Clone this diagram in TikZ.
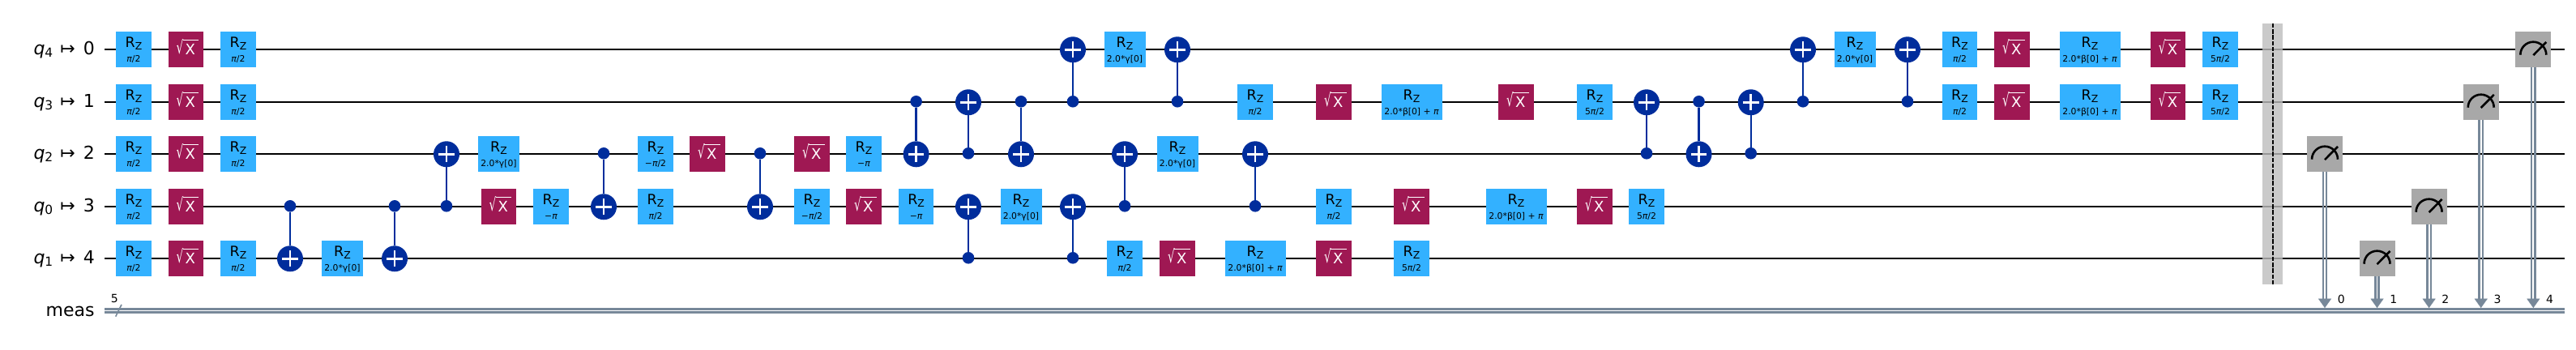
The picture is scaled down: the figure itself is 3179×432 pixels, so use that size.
\documentclass[tikz,border=0pt]{standalone}
\usepackage{fontspec}
\usepackage{graphicx}
\setmainfont{DejaVu Sans}
\usetikzlibrary{arrows.meta}
\definecolor{rzblue}{HTML}{33B1FF}
\definecolor{sxred}{HTML}{9F1853}
\definecolor{cxblue}{HTML}{002D9C}
\definecolor{msgrey}{HTML}{A8A8A8}
\definecolor{wiregrey}{HTML}{778899}
\definecolor{bargrey}{HTML}{BDBDBD}
\def\ya{61.3}\def\yb{126.3}\def\yc{190.3}\def\yd{255.3}\def\ye{319.3}\def\ym{383.3}
\tikzset{
  wire/.style={draw=black,line width=1.2pt},
  cwire/.style={draw=wiregrey,line width=1.25pt},
  gatebox/.style={rectangle,inner sep=0pt,outer sep=0pt,minimum height=21.9pt},
  rzbox/.style={gatebox,fill=rzblue},
  sxbox/.style={gatebox,fill=sxred,minimum width=21.7pt},
  sxtext/.style={anchor=base,inner sep=0pt,outer sep=0pt,text=white,font=\fontsize{9}{11}\selectfont},
  sxroot/.style={anchor=base,inner sep=0pt,outer sep=0pt,text=white,font=\fontsize{11}{13}\selectfont},
  sxrule/.style={draw=white,line width=0.4pt},
  msbox/.style={gatebox,fill=msgrey,minimum width=22pt},
  rzname/.style={anchor=base,inner sep=0pt,font=\fontsize{8.7}{11}\selectfont},
  rzsub/.style={anchor=base,inner sep=0pt,font=\fontsize{5.4}{7}\selectfont},
  target/.style={circle,fill=cxblue,inner sep=0pt,outer sep=0pt,minimum size=16pt},
  ctrl/.style={circle,fill=cxblue,inner sep=0pt,outer sep=0pt,minimum size=7.3pt},
  cxline/.style={draw=cxblue,line width=1.2pt},
  cxplus/.style={draw=white,line width=1.25pt},
  qlabel/.style={anchor=base east,inner sep=0pt,font=\fontsize{11}{13}\selectfont},
  bitlabel/.style={anchor=base,inner sep=0pt,font=\fontsize{7}{8}\selectfont},
  meter/.style={draw=black,line width=1.3pt},
}
\newcommand{\qlab}[2]{{\itshape q}\raisebox{-1.2pt}{\fontsize{7.7}{8}\selectfont #1}\hspace{4.6pt}↦\hspace{5pt}#2}
\newcommand{\gRz}[5][21.7pt]{% [width] name x y param
  \node[rzbox,minimum width=#1] (#2) at (#3,#4) {};
  \node[rzname] (#2-n) at ([yshift=1.4pt]#2.center) {R\raisebox{-1.3pt}{\fontsize{6.2}{7}\selectfont Z}};
  \node[rzsub] (#2-p) at ([yshift=-7.5pt]#2.center) {#5};
}
\newcommand{\gSx}[3]{%
  \node[sxbox] (#1) at (#2,#3) {};
  \node[sxroot] (#1-r) at ([shift={(-3.75pt,-2.8pt)}]#1.center) {\scalebox{.62}[1]{√}};
  \node[sxtext] (#1-x) at ([shift={(2.6pt,-3.2pt)}]#1.center) {X};
  \draw[sxrule] ([shift={(-2pt,6pt)}]#1.center) -- ([shift={(7.8pt,6pt)}]#1.center);
}
\newcommand{\gCx}[4]{% name x yctrl ytgt
  \node[ctrl] (#1-c) at (#2,#3-1) {};
  \node[target] (#1-t) at (#2,#4) {};
  \draw[cxline] (#1-c) -- (#1-t);
  \draw[cxplus] ([xshift=-4.9pt]#1-t.center) -- ([xshift=4.9pt]#1-t.center);
  \draw[cxplus] ([yshift=-4.9pt]#1-t.center) -- ([yshift=4.9pt]#1-t.center);
}
\newcommand{\gMs}[4]{% name x y bit
  \node[msbox] (#1) at (#2,#3) {};
  \draw[meter] ([shift={(-8pt,-3.2pt)}]#1.center) arc[start angle=180,end angle=0,radius=8pt];
  \draw[meter] ([shift={(0pt,-3.4pt)}]#1.center) -- ([shift={(8pt,4.7pt)}]#1.center);
  \coordinate (#1-a) at (#2,368.7);
  \coordinate (#1-b) at (#2,380);
  \draw[cwire] ([xshift=-1.1pt]#1.south) -- ([xshift=-1.1pt]#1-a);
  \draw[cwire] ([xshift=1.1pt]#1.south) -- ([xshift=1.1pt]#1-a);
  \draw[wiregrey,line width=0.1pt,-{Triangle[length=5.65pt,width=8pt,fill=wiregrey]}] (#1-a) -- (#1-b);
  \node[bitlabel] (#1-l) at (#2+20.3,374.3) {#4};
}
\begin{document}
\begin{tikzpicture}[x=0.5pt,y=-0.5pt]
\useasboundingbox (0,0) rectangle (3179,432);
\fill[white] (0,0) rectangle (3179,432);
% wires
\foreach \n/\y in {a/\ya,b/\yb,c/\yc,d/\yd,e/\ye,m/\ym}{
  \coordinate (s\n) at (129,\y);
  \coordinate (t\n) at (3165,\y);
}
\foreach \n in {a,b,c,d,e}{\draw[wire] (s\n) -- (t\n);}
\draw[cwire] ([yshift=1pt]sm) -- ([yshift=1pt]tm);
\draw[cwire] ([yshift=-1pt]sm) -- ([yshift=-1pt]tm);
% labels
\node[qlabel] (la) at (117.3,\ya+6.5) {\qlab{4}{0}};
\node[qlabel] (lb) at (117.3,\yb+6.5) {\qlab{3}{1}};
\node[qlabel] (lc) at (117.3,\yc+6.5) {\qlab{2}{2}};
\node[qlabel] (ld) at (117.3,\yd+6.5) {\qlab{0}{3}};
\node[qlabel] (le) at (117.3,\ye+6.5) {\qlab{1}{4}};
\node[qlabel] (lm) at (117,390.2) {meas};
\coordinate (sl1) at (142.7,390.7);
\coordinate (sl2) at (150,376);
\draw[draw=wiregrey,line width=0.8pt] (sl1) -- (sl2);
\node[bitlabel] (five) at (141.3,374) {5};
% first layers
\foreach \n/\y in {a/\ya,b/\yb,c/\yc,d/\yd,e/\ye}{
  \gRz{rz0\n}{165}{\y}{{\itshape π}/2}
  \gSx{sx1\n}{229.5}{\y}
}
\foreach \n/\y in {a/\ya,b/\yb,c/\yc,e/\ye}{
  \gRz{rz2\n}{294}{\y}{{\itshape π}/2}
}
\def\gam{2.0*γ[0]}
\def\bet{2.0*β[0] + {\itshape π}}
\def\hp{{\itshape π}/2}
\def\mhp{−{\itshape π}/2}
\def\mpi{−{\itshape π}}
\def\fhp{5{\itshape π}/2}
\gCx{cx3}{358}{\yd}{\ye}
\gRz[25.5pt]{rz4}{422.5}{\ye}{\gam}
\gCx{cx5}{487}{\yd}{\ye}
\gCx{cx6}{551}{\yd}{\yc}
\gRz[25.5pt]{rz7}{615.5}{\yc}{\gam}
\gSx{sx7}{615.5}{\yd}
\gRz{rz8}{680}{\yd}{\mpi}
\gCx{cx9}{745}{\yc}{\yd}
\gRz{rz10c}{809}{\yc}{\mhp}
\gRz{rz10d}{809}{\yd}{\hp}
\gSx{sx11}{873}{\yc}
\gCx{cx12}{938}{\yc}{\yd}
\gSx{sx13}{1002}{\yc}
\gRz{rz13}{1002}{\yd}{\mhp}
\gRz{rz14}{1066}{\yc}{\mpi}
\gSx{sx14}{1066}{\yd}
\gRz{rz15}{1130.6}{\yd}{\mpi}
\gCx{cx15}{1130.6}{\yb}{\yc}
\gCx{cx16a}{1195}{\yc}{\yb}
\gCx{cx16b}{1195}{\ye}{\yd}
\gCx{cx17}{1260}{\yb}{\yc}
\gRz[25.5pt]{rz17}{1260}{\yd}{\gam}
\gCx{cx18a}{1324}{\yb}{\ya}
\gCx{cx18b}{1324}{\ye}{\yd}
\gRz[25.5pt]{rz19a}{1388}{\ya}{\gam}
\gCx{cx19}{1388}{\yd}{\yc}
\gRz{rz19e}{1388}{\ye}{\hp}
\gCx{cx20a}{1453}{\yb}{\ya}
\gRz[25.5pt]{rz20c}{1453}{\yc}{\gam}
\gSx{sx20}{1453}{\ye}
\gRz{rz21b}{1549}{\yb}{\hp}
\gCx{cx21}{1549}{\yd}{\yc}
\gRz[37.5pt]{rz21e}{1549}{\ye}{\bet}
\gSx{sx22b}{1646}{\yb}
\gRz{rz22d}{1646}{\yd}{\hp}
\gSx{sx22e}{1646}{\ye}
\gRz[37.5pt]{rz23b}{1742}{\yb}{\bet}
\gSx{sx23d}{1742}{\yd}
\gRz{rz23e}{1742}{\ye}{\fhp}
\gSx{sx24b}{1871}{\yb}
\gRz[37.5pt]{rz24d}{1871}{\yd}{\bet}
\gRz{rz25b}{1968}{\yb}{\fhp}
\gSx{sx25d}{1968}{\yd}
\gCx{cx26}{2032}{\yc}{\yb}
\gRz{rz26d}{2032}{\yd}{\fhp}
\gCx{cx27}{2096.5}{\yb}{\yc}
\gCx{cx28}{2160.7}{\yc}{\yb}
\gCx{cx29}{2225}{\yb}{\ya}
\gRz[25.5pt]{rz30}{2289}{\ya}{\gam}
\gCx{cx31}{2354}{\yb}{\ya}
\foreach \n/\y in {a/\ya,b/\yb}{
  \gRz{rz32\n}{2418.5}{\y}{\hp}
  \gSx{sx33\n}{2483}{\y}
  \gRz[37.5pt]{rz34\n}{2579}{\y}{\bet}
  \gSx{sx35\n}{2675.7}{\y}
  \gRz{rz36\n}{2740}{\y}{\fhp}
}
% barrier
\node[fill=bargrey,fill opacity=.8,inner sep=0pt,outer sep=0pt,minimum width=12.2pt,minimum height=161pt] (bar) at (2804.5,190) {};
\draw[black,line width=0.6pt,dash pattern=on 2.7pt off 0.9pt] ([xshift=0.2pt]bar.north) -- ([xshift=0.2pt]bar.south);
% measures
\gMs{m0}{2869}{\yc}{0}
\gMs{m1}{2933.5}{\ye}{1}
\gMs{m2}{2997.6}{\yd}{2}
\gMs{m3}{3061.7}{\yb}{3}
\gMs{m4}{3126.3}{\ya}{4}
\end{tikzpicture}
\end{document}
